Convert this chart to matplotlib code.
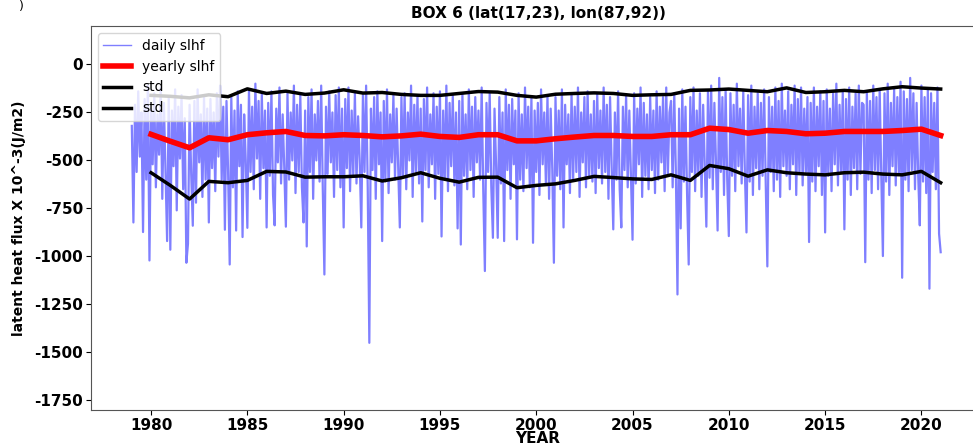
import numpy as np
import matplotlib
matplotlib.use("Agg")
import matplotlib.pyplot as plt

# ---------------- data ----------------
years = list(range(1980, 2022))

yearly_slhf = [-364, -400, -434, -382, -392, -366, -356, -349, -370, -372,
               -366, -370, -377, -372, -363, -375, -380, -366, -366, -398,
               -398, -387, -378, -370, -370, -375, -375, -366, -366, -332,
               -339, -358, -344, -349, -361, -358, -349, -349, -349, -344,
               -337, -370]

std_upper = [-161, -166, -174, -158, -168, -127, -151, -139, -156, -149,
             -132, -149, -146, -156, -161, -161, -151, -141, -144, -161,
             -170, -155, -151, -148, -151, -161, -158, -156, -135, -133,
             -128, -135, -142, -122, -146, -142, -135, -142, -127, -116,
             -123, -128]

std_lower = [-564, -630, -701, -609, -616, -604, -557, -560, -587, -585,
             -585, -580, -607, -590, -564, -593, -613, -588, -587, -642,
             -630, -622, -604, -583, -589, -596, -599, -575, -604, -526,
             -543, -582, -549, -564, -571, -575, -564, -561, -571, -575,
             -557, -616]

# daily series, sampled roughly monthly from Jan 1979 (one row per year)
daily_start = 1979
daily_slhf = [
    -320, -823, -210, -560, -140, -480, -250, -873, -180, -600, -110, -1021,  # 1979
    -230, -520, -150, -640, -260, -470, -120, -700, -200, -560, -920, -170,   # 1980
    -965, -240, -530, -130, -760, -220, -490, -160, -650, -280, -1033, -934,  # 1981
    -210, -570, -840, -190, -720, -130, -510, -260, -690, -170, -600, -230,   # 1982
    -823, -180, -540, -250, -660, -150, -480, -110, -600, -220, -861, -190,   # 1983
    -560, -1042, -170, -640, -240, -865, -140, -530, -210, -899, -260, -500,  # 1984
    -851, -130, -560, -220, -650, -100, -490, -190, -700, -150, -540, -240,   # 1985
    -849, -200, -580, -140, -680, -838, -230, -510, -120, -620, -260, -540,   # 1986
    -845, -150, -600, -250, -500, -110, -670, -210, -560, -160, -640, -823,   # 1987
    -240, -948, -170, -560, -130, -700, -260, -500, -190, -610, -110, -650,   # 1988
    -1094, -220, -570, -140, -510, -250, -690, -160, -550, -120, -640, -230,  # 1989
    -849, -180, -540, -120, -660, -240, -580, -150, -620, -270, -500, -849,   # 1990
    -160, -560, -110, -640, -1450, -230, -550, -170, -700, -140, -520, -250,  # 1991
    -920, -190, -610, -130, -670, -260, -510, -160, -600, -230, -550, -849,   # 1992
    -170, -580, -150, -650, -250, -500, -110, -690, -210, -560, -160, -620,   # 1993
    -230, -818, -180, -550, -120, -640, -260, -520, -150, -700, -220, -570,   # 1994
    -140, -896, -240, -600, -110, -660, -200, -530, -160, -630, -250, -854,   # 1995
    -190, -938, -150, -580, -260, -650, -130, -550, -220, -690, -170, -510,   # 1996
    -240, -600, -120, -660, -1076, -200, -560, -150, -640, -903, -230, -530,  # 1997
    -903, -170, -620, -250, -920, -130, -550, -210, -700, -180, -520, -240,   # 1998
    -911, -150, -600, -260, -660, -120, -540, -220, -640, -170, -929, -240,   # 1999
    -560, -200, -680, -130, -520, -250, -620, -160, -700, -230, -550, -1033,  # 2000
    -170, -580, -240, -650, -130, -849, -210, -520, -260, -670, -150, -600,   # 2001
    -220, -560, -120, -690, -250, -510, -170, -640, -140, -580, -260, -610,   # 2002
    -190, -670, -150, -540, -240, -620, -120, -560, -210, -700, -170, -530,   # 2003
    -859, -250, -600, -140, -650, -849, -220, -550, -160, -640, -240, -580,   # 2004
    -913, -150, -620, -230, -520, -120, -690, -200, -580, -260, -650, -170,   # 2005
    -550, -240, -670, -140, -600, -220, -510, -170, -660, -120, -580, -250,   # 2006
    -190, -640, -150, -560, -1198, -230, -854, -130, -610, -220, -680, -1042, # 2007
    -170, -560, -120, -660, -240, -580, -150, -690, -210, -530, -845, -140,   # 2008
    -590, -110, -650, -200, -510, -865, -70, -560, -170, -680, -130, -600,    # 2009
    -894, -150, -580, -210, -660, -100, -530, -230, -620, -140, -560, -875,   # 2010
    -160, -610, -110, -680, -220, -540, -150, -650, -200, -580, -130, -620,   # 2011
    -1052, -170, -560, -220, -660, -120, -600, -190, -690, -100, -530, -240,  # 2012
    -580, -140, -650, -210, -520, -110, -680, -180, -570, -120, -630, -230,   # 2013
    -560, -170, -925, -200, -610, -120, -660, -220, -530, -140, -680, -190,   # 2014
    -875, -130, -580, -230, -660, -150, -520, -100, -630, -210, -560, -140,   # 2015
    -859, -180, -600, -120, -680, -220, -540, -150, -650, -110, -570, -200,   # 2016
    -210, -1030, -140, -600, -190, -670, -110, -550, -170, -650, -130, -580,  # 2017
    -998, -150, -610, -100, -680, -200, -530, -130, -630, -170, -570, -90,    # 2018
    -1111, -140, -600, -180, -660, -70, -550, -150, -650, -200, -580, -838,   # 2019
    -110, -610, -170, -670, -130, -1168, -150, -560, -200, -650, -120, -882,  # 2020
    -978,                                                                     # 2021
]

yticks = [0, -250, -500, -750, -1000, -1250, -1500, -1750]
xticks = list(range(1980, 2021, 5))

# ---------------- plot ----------------
plt.rcParams['font.family'] = 'DejaVu Sans'
plt.rcParams['axes.unicode_minus'] = False

fig = plt.figure(figsize=(9.73, 4.48), dpi=100)
ax = fig.add_axes([0.0935, 0.0848, 0.9188, 0.857])

daily_x = daily_start + np.arange(len(daily_slhf)) / 12.0
ax.plot(daily_x, daily_slhf, color='blue', alpha=0.5, lw=1.6, label='daily slhf')
ax.plot(years, yearly_slhf, color='red', lw=4, label='yearly slhf')
ax.plot(years, std_upper, color='black', lw=2.5, label='std')
ax.plot(years, std_lower, color='black', lw=2.5, label='std')

ax.set_xlim(1976.88, 2023.3)
ax.set_ylim(-1800, 200)
ax.set_yticks(yticks, labels=[str(t) for t in yticks], fontsize=11, fontweight='bold')
ax.set_xticks(xticks, labels=[str(t) for t in xticks], fontsize=11, fontweight='bold')
ax.tick_params(pad=2)

for sp in ax.spines.values():
    sp.set_color('#555555')

ax.set_title('BOX 6 (lat(17,23), lon(87,92))', fontsize=11, fontweight='bold')
ax.set_xlabel('YEAR', fontsize=11, fontweight='bold', labelpad=-1)
ax.set_ylabel('latent heat flux X 10^-3(J/m2)', fontsize=10, fontweight='bold', labelpad=6)

leg = ax.legend(loc='upper left', fontsize=10)
leg.get_lines()[0].set_linewidth(1)

# leftover panel tag from the neighbouring panel
fig.text(0.02, 1.0, ')', fontsize=9, va='top')

fig.savefig('out.png', dpi=100)
